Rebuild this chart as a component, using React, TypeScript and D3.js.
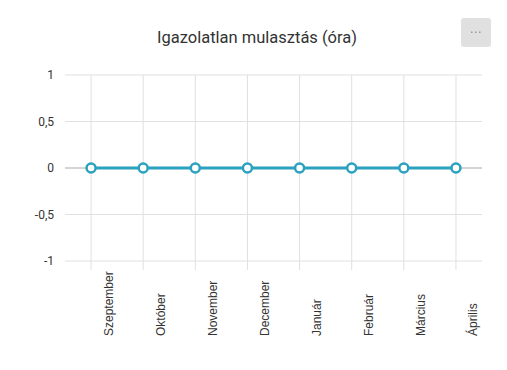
import * as d3 from "d3";
import React from "react";

// chart data
const months = ["Szeptember", "Október", "November", "December", "Január", "Február", "Március", "Április"];
const hours = [0, 0, 0, 0, 0, 0, 0, 0];
const yTicks = [-1, -0.5, 0, 0.5, 1];

const WIDTH = 507;
const HEIGHT = 370;
const margin = { top: 75, right: 25, bottom: 109, left: 65 };

export default function App() {
  const chartWidth = WIDTH - margin.left - margin.right;
  const chartHeight = HEIGHT - margin.top - margin.bottom;

  const xScale = d3.scaleBand().domain(months).range([0, chartWidth]);
  const yScale = d3.scaleLinear().domain([-1, 1]).range([chartHeight, 0]);
  const cx = (m: string) => (xScale(m) || 0) + xScale.bandwidth() / 2;

  const line = d3
    .line<number>()
    .x((d, i) => cx(months[i]))
    .y(d => yScale(d));

  const fmt = (v: number) => String(v).replace(".", ",");
  const font = "Roboto, 'Noto Sans', sans-serif";

  return (
    <svg
      width={WIDTH}
      height={HEIGHT}
      style={{ position: "absolute", left: 0, top: 0, fontFamily: font }}
    >
      <rect width={WIDTH} height={HEIGHT} fill="#fff" />
      {/* title */}
      <text x={257} y={43} textAnchor="middle" fontSize={16.5} fill="#333">
        Igazolatlan mulasztás (óra)
      </text>
      {/* menu button */}
      <rect x={461} y={18} width={30} height={29} rx={3} fill="#e0e0e0" />
      {[-4, 0, 4].map(o => (
        <rect key={o} x={475 + o} y={31.5} width={1.5} height={1.5} fill="#999" />
      ))}

      <g transform={`translate(${margin.left},${margin.top})`}>
        {/* vertical grid */}
        {months.map(m => (
          <line key={m} x1={cx(m)} x2={cx(m)} y1={0} y2={chartHeight + 9} stroke="#e0e0e0" />
        ))}
        {/* horizontal grid + y labels */}
        {yTicks.map(t => (
          <g key={t} transform={`translate(0,${yScale(t)})`}>
            <line x1={0} x2={chartWidth} stroke={t === 0 ? "#aaa" : "#e0e0e0"} />
            <text x={-11} dy="0.35em" textAnchor="end" fontSize={12} fill="#333">
              {fmt(t)}
            </text>
          </g>
        ))}
        {/* x labels */}
        {months.map(m => (
          <text
            key={m}
            transform={`translate(${cx(m) + 21.5},${chartHeight + 75}) rotate(-90)`}
            textAnchor="start"
            fontSize={12}
            fontFamily="'Liberation Sans', Arial, sans-serif"
            fill="#333"
          >
            {m}
          </text>
        ))}
        {/* series */}
        <path d={line(hours) || ""} fill="none" stroke="#2aa1bf" strokeWidth={3} />
        {hours.map((v, i) => (
          <circle
            key={i}
            cx={cx(months[i])}
            cy={yScale(v)}
            r={4.5}
            fill="#fff"
            stroke="#2aa1bf"
            strokeWidth={2.5}
          />
        ))}
      </g>
    </svg>
  );
}
